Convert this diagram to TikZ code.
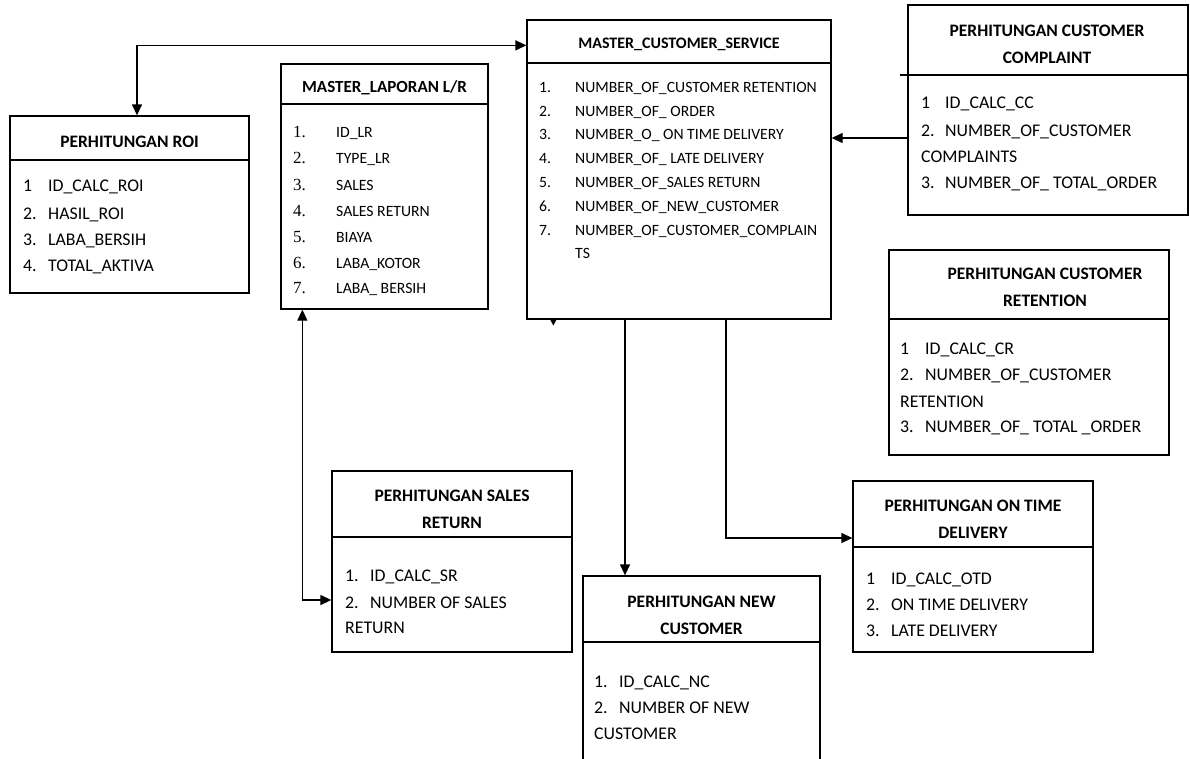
\documentclass[tikz,border=0pt]{standalone}
\usepackage{fontspec}
\setmainfont{Carlito}
\newfontfamily\numfont{Liberation Serif}
\usetikzlibrary{arrows.meta}

\tikzset{
  tablebox/.style={draw, rectangle, line width=1.3pt, inner sep=0pt},
  headline/.style={line width=1.3pt},
  tabletitle/.style={font=\fontsize{17.5}{27}\selectfont\bfseries, align=center, inner sep=0pt},
  item/.style={font=\fontsize{17.8}{21}\selectfont, anchor=mid west, inner sep=0pt, yshift=-3.5pt},
  smallitem/.style={font=\fontsize{15.7}{19}\selectfont, anchor=mid west, inner sep=0pt, yshift=-3.5pt},
  link/.style={line width=1.3pt},
  >={Triangle[length=11pt,width=10pt]}
}

\begin{document}
\begin{tikzpicture}[x=1pt, y=-1pt]
    \useasboundingbox (0,0) rectangle (1190,758);

    % Boxes
    \node [tablebox, minimum width=239pt, minimum height=177pt] (roi) at (129.5,204.5) {};
    \node [tablebox, minimum width=207pt, minimum height=245pt] (mlr) at (384.5,186.5) {};
    \node [tablebox, minimum width=304pt, minimum height=299pt] (mcs) at (679,169.5) {};
    \node [tablebox, minimum width=280pt, minimum height=210pt] (cc) at (1048,110) {};
    \node [tablebox, minimum width=280pt, minimum height=205pt] (cr) at (1029,352.5) {};
    \node [tablebox, minimum width=240pt, minimum height=171pt] (otd) at (973,566.5) {};
    \node [tablebox, minimum width=240pt, minimum height=181pt] (sr) at (452,561.5) {};
    \node [tablebox, minimum width=237pt, minimum height=194pt] (nc) at (701.5,673) {};

    % Header lines
    \draw [headline] (roi.west |- 0,160) -- (roi.east |- 0,160);
    \draw [headline] (mlr.west |- 0,104) -- (mlr.east |- 0,104);
    \draw [headline] (mcs.west |- 0,63) -- (mcs.east |- 0,63);
    \draw [headline] (900,75) -- (cc.east |- 0,75);
    \draw [headline] (cr.west |- 0,319) -- (cr.east |- 0,319);
    \draw [headline] (otd.west |- 0,547) -- (otd.east |- 0,547);
    \draw [headline] (sr.west |- 0,537) -- (sr.east |- 0,537);
    \draw [headline] (nc.west |- 0,642) -- (nc.east |- 0,642);

    % Titles
    \node [tabletitle] (roi-title) at (129.5,142) {PERHITUNGAN ROI};
    \node [tabletitle, font=\fontsize{17}{20}\selectfont\bfseries] (mlr-title) at (384.5,88) {MASTER\_LAPORAN L/R};
    \node [tabletitle, font=\fontsize{16}{20}\selectfont\bfseries] (mcs-title) at (679,44) {MASTER\_CUSTOMER\_SERVICE};
    \node [tabletitle] (cc-title) at (1047,44) {PERHITUNGAN CUSTOMER\\COMPLAINT};
    \node [tabletitle] (cr-title) at (1045,287.5) {PERHITUNGAN CUSTOMER\\RETENTION};
    \node [tabletitle] (otd-title) at (973,519) {PERHITUNGAN ON TIME\\DELIVERY};
    \node [tabletitle] (sr-title) at (452,509) {PERHITUNGAN SALES\\RETURN};
    \node [tabletitle] (nc-title) at (701.5,615) {PERHITUNGAN NEW\\CUSTOMER};

    % Items
    \foreach \y/\n/\t [count=\i] in {186/1/ID\_CALC\_ROI, 214/2./HASIL\_ROI,
        240/3./LABA\_BERSIH, 266/4./TOTAL\_AKTIVA} {
      \node [item] (roi-num-\i) at (23,\y) {\n};
      \node [item] (roi-item-\i) at (48,\y) {\t};
    }
    \foreach \y/\n/\t [count=\i] in {132/1./ID\_LR, 158/2./TYPE\_LR, 185/3./SALES,
        211/4./SALES RETURN, 237/5./BIAYA, 263/6./LABA\_KOTOR, 288/7./LABA\_ BERSIH} {
      \node [smallitem, font=\fontsize{17}{20}\numfont] (mlr-num-\i) at (293,\y) {\n};
      \node [smallitem] (mlr-item-\i) at (336,\y) {\t};
    }
    \foreach \y/\n/\t [count=\i] in {87/1./NUMBER\_OF\_CUSTOMER RETENTION,
        111/2./NUMBER\_OF\_ ORDER, 134/3./NUMBER\_O\_ ON TIME DELIVERY,
        158/4./NUMBER\_OF\_ LATE DELIVERY, 182/5./NUMBER\_OF\_SALES RETURN,
        206/6./NUMBER\_OF\_NEW\_CUSTOMER, 230/7./NUMBER\_OF\_CUSTOMER\_COMPLAIN} {
      \node [smallitem] (mcs-num-\i) at (539,\y) {\n};
      \node [smallitem] (mcs-item-\i) at (575,\y) {\t};
    }
    \node [smallitem] (mcs-item-8) at (575,253) {TS};

    \foreach \y/\n/\t [count=\i] in {103/1/ID\_CALC\_CC, 131/2./NUMBER\_OF\_CUSTOMER,
        183/3./NUMBER\_OF\_ TOTAL\_ORDER} {
      \node [item] (cc-num-\i) at (921,\y) {\n};
      \node [item] (cc-item-\i) at (945,\y) {\t};
    }
    \node [item] (cc-item-4) at (921,157) {COMPLAINTS};

    \foreach \y/\n/\t [count=\i] in {349/1/ID\_CALC\_CR, 375/2./NUMBER\_OF\_CUSTOMER,
        427/3./NUMBER\_OF\_ TOTAL \_ORDER} {
      \node [item] (cr-num-\i) at (900,\y) {\n};
      \node [item] (cr-item-\i) at (925,\y) {\t};
    }
    \node [item] (cr-item-4) at (900,402) {RETENTION};

    \foreach \y/\n/\t [count=\i] in {579/1/ID\_CALC\_OTD, 605/2./ON TIME DELIVERY,
        631/3./LATE DELIVERY} {
      \node [item] (otd-num-\i) at (866,\y) {\n};
      \node [item] (otd-item-\i) at (891,\y) {\t};
    }

    \foreach \y/\n/\t [count=\i] in {576/1./ID\_CALC\_SR, 603/2./NUMBER OF SALES} {
      \node [item] (sr-num-\i) at (345,\y) {\n};
      \node [item] (sr-item-\i) at (370,\y) {\t};
    }
    \node [item] (sr-item-3) at (345,628) {RETURN};

    \foreach \y/\n/\t [count=\i] in {682/1./ID\_CALC\_NC, 708/2./NUMBER OF NEW} {
      \node [item] (nc-num-\i) at (594,\y) {\n};
      \node [item] (nc-item-\i) at (619,\y) {\t};
    }
    \node [item] (nc-item-3) at (594,734) {CUSTOMER};

    % Arrows
    \draw [link, <->] ([xshift=7.5pt]roi.north) |- ([yshift=-26pt]mcs.north west);
    \coordinate (ccin) at ([yshift=-28pt]cc.west);
    \draw [link, ->] (ccin) -- (ccin -| mcs.east);
    \coordinate (ncout) at ([xshift=-54pt]mcs.south);
    \draw [link, ->] (ncout) -- (ncout |- nc.north);
    \draw [link, ->] ([xshift=47pt]mcs.south) |- ([yshift=28.5pt]otd.west);
    \draw [link, <->] ([xshift=22pt]mlr.south west) |- ([yshift=-38.5pt]sr.west);
    \coordinate (stub) at ([xshift=27pt]mcs.south west);
    \draw [link, -{Triangle[length=6pt,width=6pt]}] (stub) -- ++(0,6);
\end{tikzpicture}
\end{document}
